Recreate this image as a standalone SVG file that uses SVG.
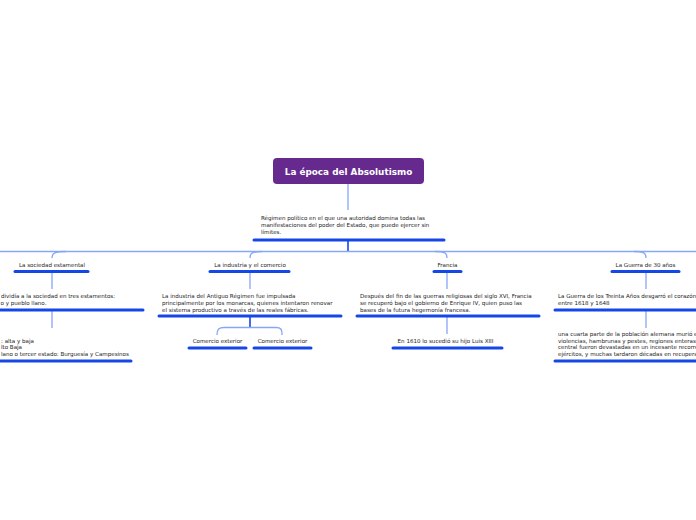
<svg xmlns="http://www.w3.org/2000/svg" width="696" height="520" viewBox="0 0 696 520">
<style>
.t{font-family:"DejaVu Sans","Liberation Sans",sans-serif;font-size:5.55px;fill:#222}
.c{text-anchor:middle}
.u{stroke:#1447e6;stroke-width:3;stroke-linecap:round;fill:none}
.l{stroke:#87a6f7;stroke-width:1.3;fill:none}
.s{stroke:#1447e6;stroke-width:1.6;fill:none}
</style>
<rect width="696" height="520" fill="#fff"/>
<g id="connectors">
<path class="l" d="M348 184V210"/>
<path class="s" d="M348 241V251"/>
<path class="l" d="M0 251.5H696"/>
<path class="l" d="M66 251.5C55 251.5 52 253 52 258"/>
<path class="l" d="M262 251.5C252 251.5 250 253 250 258"/>
<path class="l" d="M435 251.5C445 251.5 447 253 447 258"/>
<path class="l" d="M634 251.5C644 251.5 646 253 646 258"/>
<path class="l" d="M52 272V289M250 272V289M447 272V289M646 272V289"/>
<path class="l" d="M52 311V328M646 311V328M447 317V334"/>
<path class="s" d="M250 317V327"/>
<path class="l" d="M250 327.5H224C219 327.5 217 329 217 335M250 327.5H276C281 327.5 282 329 282 335"/>
</g>
<g id="root">
<rect x="273" y="158" width="151" height="26" rx="4" fill="#662a8e"/>
<text x="348.5" y="175" text-anchor="middle" font-family="DejaVu Sans,Liberation Sans,sans-serif" font-size="8.85" font-weight="bold" fill="#fff">La época del Absolutismo</text>
</g>
<g id="def">
<text class="t" x="261" y="219.5">Régimen político en el que una autoridad domina todas las</text>
<text class="t" x="261" y="226.5">manifestaciones del poder del Estado, que puede ejercer sin</text>
<text class="t" x="261" y="233.5">límites.</text>
<path class="u" d="M254 240H444"/>
</g>
<g id="sociedad">
<text class="t c" x="52" y="267">La sociedad estamental</text>
<path class="u" d="M15 271.5H88"/>
</g>
<g id="sociedad-1">
<text class="t" x="1" y="298">dividía a la sociedad en tres estamentos:</text>
<text class="t" x="0.5" y="305">o y pueblo llano.</text>
<path class="u" d="M0 310H143"/>
</g>
<g id="sociedad-2">
<text class="t" x="1" y="342.5">: alta y baja</text>
<text class="t" x="1" y="349">lto Baja</text>
<text class="t" x="1" y="355.5">lano o tercer estado: Burguesía y Campesinos</text>
<path class="u" d="M0 361H131"/>
</g>
<g id="industria">
<text class="t c" x="250" y="267">La industria y el comercio</text>
<path class="u" d="M210 271.5H289"/>
</g>
<g id="industria-1">
<text class="t" x="162" y="298">La industria del Antiguo Régimen fue impulsada</text>
<text class="t" x="162" y="305">principalmente por los monarcas, quienes intentaron renovar</text>
<text class="t" x="162" y="312">el sistema productivo a través de las reales fábricas.</text>
<path class="u" d="M159 316H341"/>
</g>
<g id="comercio-1">
<text class="t c" x="217.5" y="342.5">Comercio exterior</text>
<path class="u" d="M189 348H246"/>
</g>
<g id="comercio-2">
<text class="t c" x="282.5" y="342.5">Comercio exterior</text>
<path class="u" d="M254 348H311"/>
</g>
<g id="francia">
<text class="t c" x="447.5" y="267">Francia</text>
<path class="u" d="M434 271.5H461"/>
</g>
<g id="francia-1">
<text class="t" x="360" y="298">Después del fin de las guerras religiosas del siglo XVI, Francia</text>
<text class="t" x="360" y="305">se recuperó bajo el gobierno de Enrique IV, quien puso las</text>
<text class="t" x="360" y="312">bases de la futura hegemonía francesa.</text>
<path class="u" d="M357 316H539"/>
</g>
<g id="francia-2">
<text class="t c" x="445.5" y="342.5">En 1610 lo sucedió su hijo Luis XIII</text>
<path class="u" d="M393 348H502"/>
</g>
<g id="guerra">
<text class="t c" x="645.5" y="267">La Guerra de 30 años</text>
<path class="u" d="M612 271.5H679"/>
</g>
<g id="guerra-1">
<text class="t" x="558" y="298">La Guerra de los Treinta Años desgarró el corazón</text>
<text class="t" x="558" y="305">entre 1618 y 1648</text>
<path class="u" d="M555 310H696"/>
</g>
<g id="guerra-2">
<text class="t" x="558" y="336"> una cuarta parte de la población alemana murió e</text>
<text class="t" x="558" y="342.5">violencias, hambrunas y pestes, regiones enteras</text>
<text class="t" x="558" y="349">central fueron devastadas en un incesante recorre</text>
<text class="t" x="558" y="355.5">ejércitos, y muchas tardaron décadas en recupera</text>
<path class="u" d="M555 361H696"/>
</g>
</svg>
